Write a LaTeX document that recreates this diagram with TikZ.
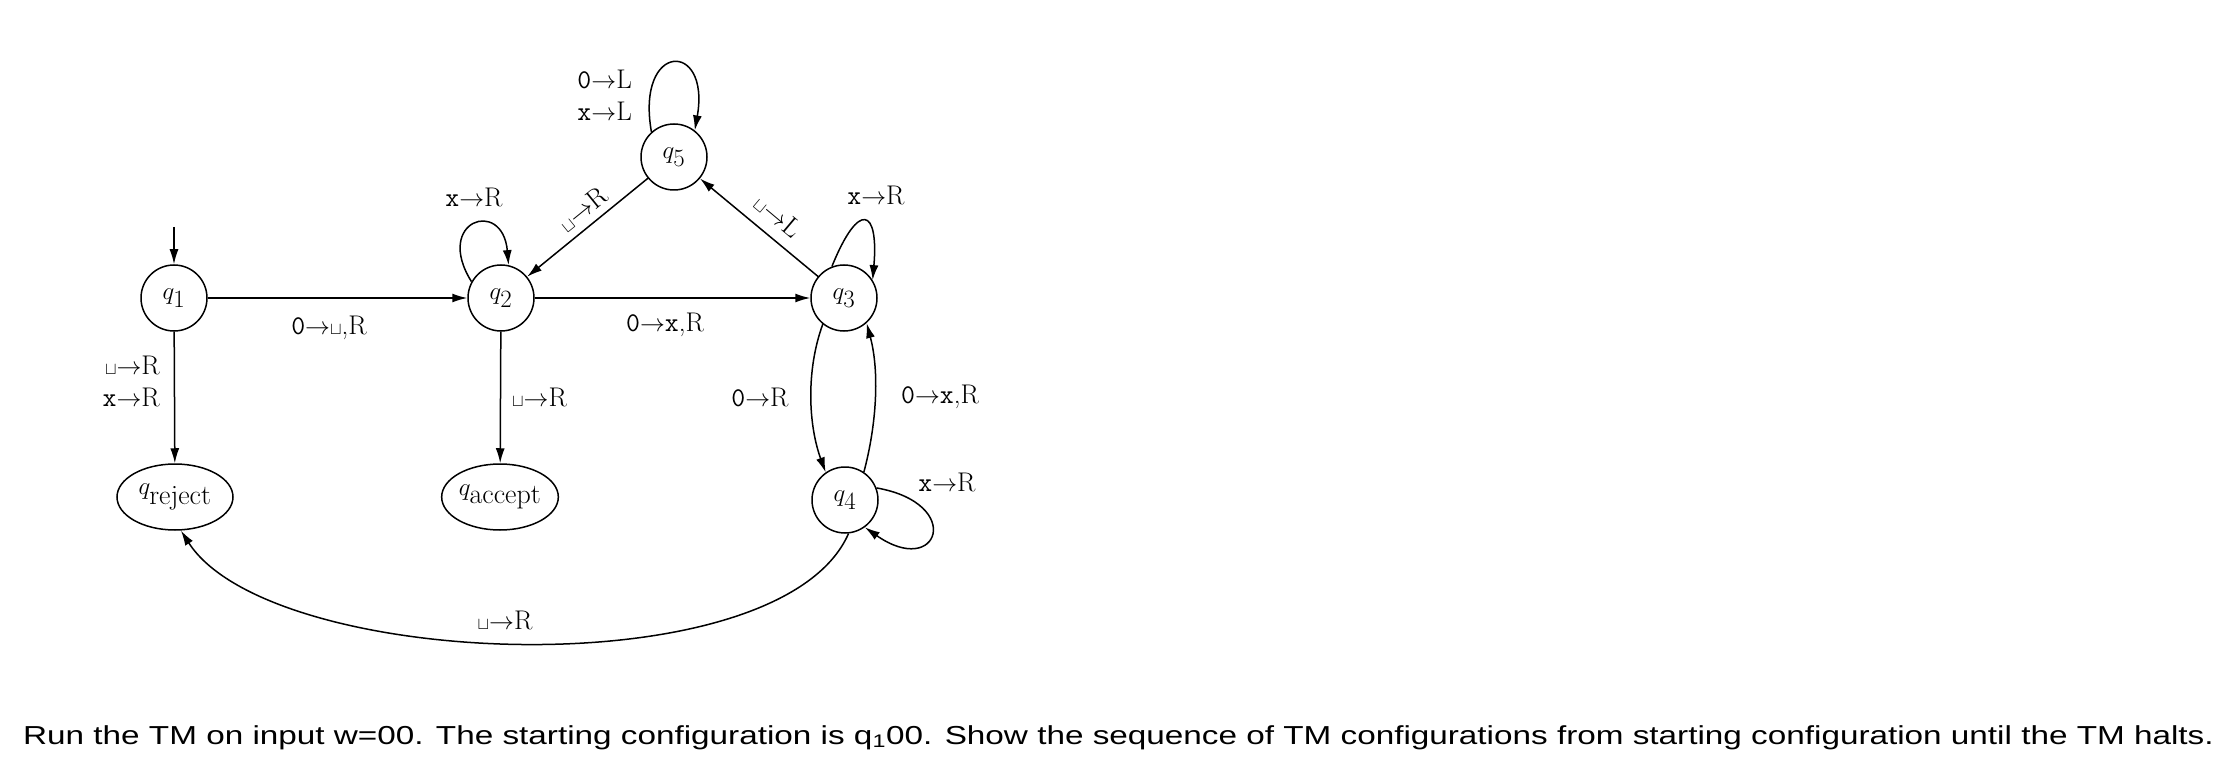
\documentclass[tikz,border=0pt]{standalone}
\usepackage{graphicx}
\usepackage{fontspec}
\newfontfamily\arialfont{Liberation Sans}
\usetikzlibrary{arrows.meta,shapes.geometric}
\newcommand{\tmz}{\texttt{0}}
\newcommand{\tmx}{\texttt{x}}
\newcommand{\ar}{$\rightarrow$}
\newcommand{\bl}{{\fontsize{17}{17}\selectfont$\sqcup$}}
\begin{document}
\begin{tikzpicture}[x=1pt,y=1pt,
  state/.style={circle,draw,line width=1.5pt,minimum size=66pt,inner sep=0pt,font=\fontsize{40}{44}\selectfont},
  halt/.style={ellipse,draw,line width=1.5pt,minimum width=116pt,minimum height=66pt,inner sep=0pt,font=\fontsize{40}{44}\selectfont},
  edge/.style={line width=1.5pt,-{Latex[length=15pt,width=9pt]}},
  lbl/.style={font=\fontsize{27}{32}\selectfont,inner sep=0pt},
]
\fill[white] (0,0) rectangle (2222,-767);
\useasboundingbox (0,0) rectangle (2222,-767);

\node[state] (q1) at (174,-298) {$q_1$};
\node[state] (q2) at (501,-298) {$q_2$};
\node[state] (q5) at (674,-157) {$q_5$};
\node[state] (q3) at (844,-298) {$q_3$};
\node[state] (q4) at (845,-500) {$q_4$};
\node[halt] (qr) at (175,-497) {$q_{\mathrm{reject}}$};
\node[halt] (qa) at (500,-497) {$q_{\mathrm{accept}}$};
\coordinate (start) at (174,-227);

% edges
\draw[edge] (start) -- (q1);
\draw[edge] (q1) -- (q2);
\draw[edge] (q2) -- (q3);
\draw[edge] (q1) -- (qr);
\draw[edge] (q2) -- (qa);
\draw[edge] (q5) -- (q2);
\draw[edge] (q3) -- (q5);
\draw[edge] (q5.132) .. controls +(100:92pt) and +(80:92pt) .. (q5.52);
\draw[edge] (q2.151) .. controls +(122:72pt) and +(95:68pt) .. (q2.77);
\draw[edge] (q3.111) .. controls +(68:72pt) and +(85:72pt) .. (q3.32);
\draw[edge] (q4.21) .. controls +(-10:90pt) and +(-35:90pt) .. (q4.-54);
\draw[edge] (q3.231) .. controls +(250:50pt) and +(110:50pt) .. (q4.125);
\draw[edge] (q4.56) .. controls +(75:50pt) and +(-75:50pt) .. (q3.-48);
\draw[edge] (q4.-84) .. controls (780,-690) and (270,-670) .. (qr.-80);

% labels
\node[lbl] (l12) at (329,-328) {\tmz\ar\bl,R};
\node[lbl] (l23) at (665,-325) {\tmz\ar\tmx,R};
\node[lbl,anchor=east,align=right] (l1r) at (160,-381) {\bl\ar R\\\tmx\ar R};
\node[lbl,anchor=west] (l2a) at (512,-397) {\bl\ar R};
\node[lbl,anchor=east,align=right] (l55) at (632,-95) {\tmz\ar L\\\tmx\ar L};
\node[lbl] (l22) at (474,-197) {\tmx\ar R};
\node[lbl] (l33) at (876,-195) {\tmx\ar R};
\node[lbl,rotate=39] (l52) at (583,-209) {\bl\ar R};
\node[lbl,rotate=-40] (l35) at (778,-216) {\bl\ar L};
\node[lbl] (l34) at (760,-397) {\tmz\ar R};
\node[lbl] (l43) at (940,-397) {\tmz\ar\tmx,R};
\node[lbl] (l44) at (947,-482) {\tmx\ar R};
\node[lbl] (l4r) at (505,-620) {\bl\ar R};

\node[anchor=base west,inner sep=0pt,font=\arialfont\fontsize{26}{30}\selectfont] (task) at (23,-744) {\scalebox{1.28}[1]{Run the TM on input w=00. The starting configuration is q\textsubscript{1}00. Show the sequence of TM configurations from starting configuration until the TM halts.}};
\end{tikzpicture}
\end{document}
